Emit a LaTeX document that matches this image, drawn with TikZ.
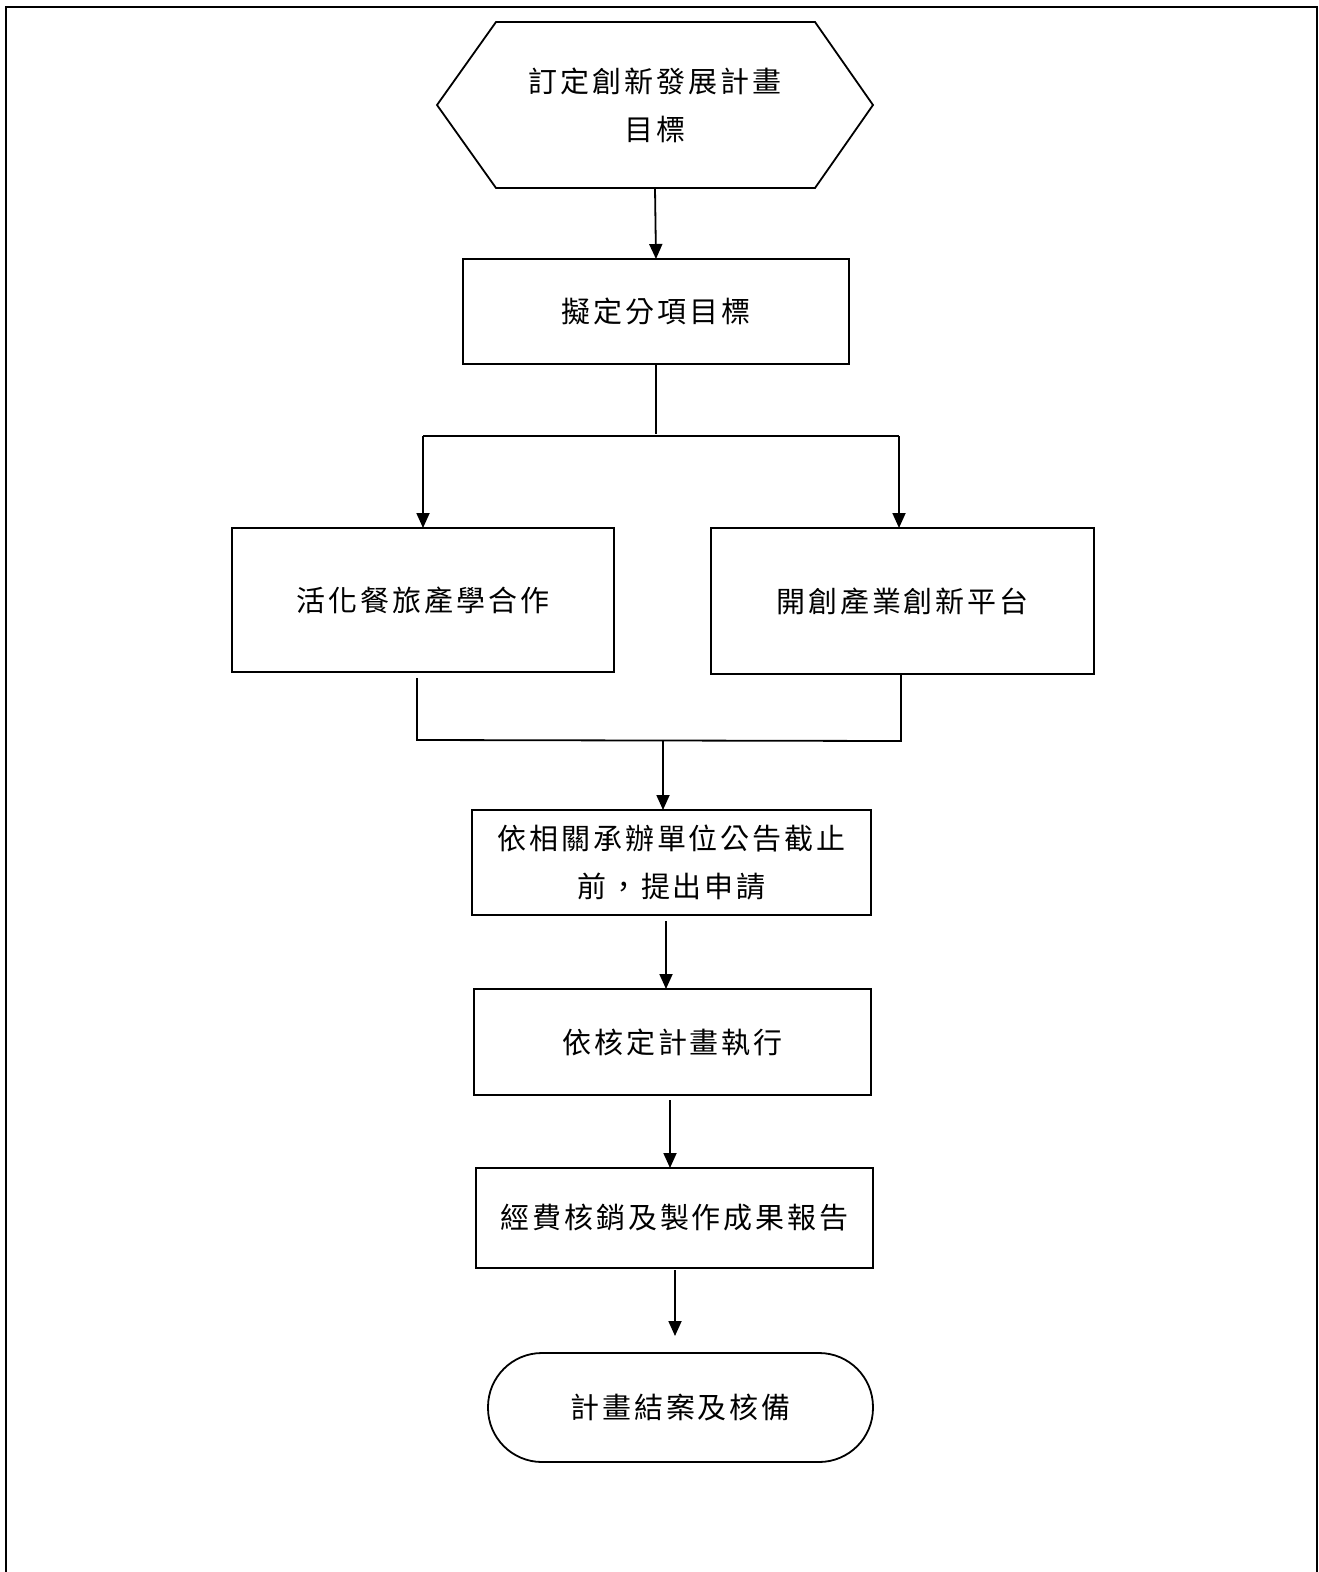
\documentclass[tikz,border=0pt]{standalone}
\usepackage{fontspec}
\newfontfamily\cjk[LetterSpace=10]{Noto Sans CJK TC}
\usetikzlibrary{arrows.meta,positioning,calc}
\begin{document}
\begin{tikzpicture}[x=1pt,y=-1pt,
  every node/.style={inner sep=0pt,outer sep=0pt},
  ln/.style={line width=1.8pt,line cap=butt},
  arr/.style={ln,-{Triangle[length=15pt,width=13pt]}},
  txt/.style={font=\cjk\fontsize{29}{48}\selectfont,align=center,text=black},
  boxx/.style={ln,draw,rectangle,txt},
]
\useasboundingbox (0,0) rectangle (1319,1572);
% page frame (open at the bottom)
\draw[ln] (6,1580) -- (6,7) -- (1317,7) -- (1317,1580);

% hexagon
\draw[ln,line join=miter] (496,22) -- (815,22) -- (873,105) -- (815,188) -- (496,188) -- (437,105) -- cycle;
\node[txt,minimum width=436pt,minimum height=166pt] (hex) at (655,105) {訂定創新發展計畫\\目標};

\node[boxx,minimum width=386pt,minimum height=105pt] (b2) at (656,311.5) {擬定分項目標};
\node[boxx,minimum width=382pt,minimum height=144pt] (bl) at (423,600) {活化餐旅產學合作};
\node[boxx,minimum width=383pt,minimum height=146pt] (br) at (902.5,601) {開創產業創新平台};
\node[boxx,minimum width=399pt,minimum height=105pt] (b3) at (671.5,862.5) {依相關承辦單位公告截止\\前，提出申請};
\node[boxx,minimum width=397pt,minimum height=106pt] (b4) at (672.5,1042) {依核定計畫執行};
\node[boxx,minimum width=397pt,minimum height=100pt] (b5) at (674.5,1218) {經費核銷及製作成果報告};
\node[boxx,rounded corners=54pt,minimum width=385pt,minimum height=109pt] (term) at (680.5,1407.5) {計畫結案及核備};

% coordinates for connector bends and free ends
\coordinate (s1) at (656,434);
\coordinate (sl) at (423,436);
\coordinate (sr) at (899,436);
\coordinate (ml0) at (417,678);
\coordinate (ml) at (417,740);
\coordinate (mr0) at (901,675);
\coordinate (mr) at (901,741);
\coordinate (mc) at (663,740);
\coordinate (a3) at (666,921);
\coordinate (a4) at (670,1100);
\coordinate (a5) at (675,1270);
\coordinate (a5e) at (675,1336);

\draw[arr] (hex.south) -- (b2.north);
\draw[ln] (b2.south) -- (s1);
\draw[ln] (sl) -- (sr);
\draw[arr] (sl) -- (bl.north -| sl);
\draw[arr] (sr) -- (br.north -| sr);
\draw[ln] (ml0) -- (ml) -- (mr) -- (mr0);
\draw[arr] (mc) -- (b3.north -| mc);
\draw[arr] (a3) -- (b4.north -| a3);
\draw[arr] (a4) -- (b5.north -| a4);
\draw[arr] (a5) -- (a5e);
\end{tikzpicture}
\end{document}
